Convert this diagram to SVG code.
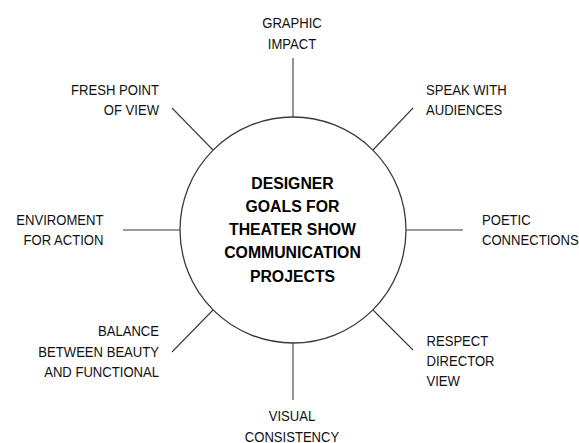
<svg xmlns="http://www.w3.org/2000/svg" width="579" height="443" viewBox="0 0 579 443">
  <style>
    .lbl { font-family: "Liberation Sans", Arial, sans-serif; font-size: 15.5px; fill: #111; }
    .hub { font-family: "Liberation Sans", Arial, sans-serif; font-size: 17px; font-weight: bold; fill: #000; text-anchor: middle; }
    .spoke { stroke: #3a3a3a; stroke-width: 1.1; fill: none; }
    .ring { stroke: #3a3a3a; stroke-width: 1.3; fill: #fff; }
    .end { text-anchor: end; }
    .mid { text-anchor: middle; }
  </style>
  <rect width="579" height="443" fill="#fff"/>

  <!-- spokes radiating from the hub -->
  <g id="connectors">
    <line class="spoke" x1="293" y1="58" x2="293" y2="117"/>
    <line class="spoke" x1="293" y1="343" x2="293" y2="400"/>
    <line class="spoke" x1="123" y1="230" x2="180" y2="230"/>
    <line class="spoke" x1="406" y1="230" x2="463" y2="230"/>
    <line class="spoke" x1="172" y1="108" x2="213" y2="150"/>
    <line class="spoke" x1="413" y1="108" x2="373" y2="150"/>
    <line class="spoke" x1="172" y1="352" x2="213" y2="310"/>
    <line class="spoke" x1="413" y1="350" x2="373" y2="310"/>
  </g>

  <!-- central hub -->
  <g id="hub">
    <circle class="ring" cx="293" cy="230" r="113"/>
    <g transform="translate(292.5 0) scale(0.93 1)">
      <text class="hub" x="0" y="189">DESIGNER</text>
      <text class="hub" x="0" y="212.5">GOALS FOR</text>
      <text class="hub" x="0" y="235.5">THEATER SHOW</text>
      <text class="hub" x="0" y="258.5">COMMUNICATION</text>
      <text class="hub" x="0" y="282">PROJECTS</text>
    </g>
  </g>

  <g id="graphic-impact" transform="translate(292 0) scale(0.845 1)">
    <text class="lbl mid" x="0" y="28.5">GRAPHIC</text>
    <text class="lbl mid" x="0" y="49">IMPACT</text>
  </g>

  <g id="speak-with-audiences" transform="translate(426 0) scale(0.845 1)">
    <text class="lbl" x="0" y="95">SPEAK WITH</text>
    <text class="lbl" x="0" y="115">AUDIENCES</text>
  </g>

  <g id="poetic-connections" transform="translate(482 0) scale(0.845 1)">
    <text class="lbl" x="0" y="225">POETIC</text>
    <text class="lbl" x="0" y="245">CONNECTIONS</text>
  </g>

  <g id="respect-director-view" transform="translate(426.5 0) scale(0.845 1)">
    <text class="lbl" x="0" y="346.5">RESPECT</text>
    <text class="lbl" x="0" y="366.5">DIRECTOR</text>
    <text class="lbl" x="0" y="386.5">VIEW</text>
  </g>

  <g id="visual-consistency" transform="translate(292 0) scale(0.845 1)">
    <text class="lbl mid" x="0" y="421.5">VISUAL</text>
    <text class="lbl mid" x="0" y="442">CONSISTENCY</text>
  </g>

  <g id="balance" transform="translate(159 0) scale(0.845 1)">
    <text class="lbl end" x="0" y="336.5">BALANCE</text>
    <text class="lbl end" x="0" y="357">BETWEEN BEAUTY</text>
    <text class="lbl end" x="0" y="377.5">AND FUNCTIONAL</text>
  </g>

  <g id="environment-for-action" transform="translate(103.5 0) scale(0.845 1)">
    <text class="lbl end" x="0" y="225">ENVIROMENT</text>
    <text class="lbl end" x="0" y="245">FOR ACTION</text>
  </g>

  <g id="fresh-point-of-view" transform="translate(159 0) scale(0.845 1)">
    <text class="lbl end" x="0" y="95">FRESH POINT</text>
    <text class="lbl end" x="0" y="115">OF VIEW</text>
  </g>
</svg>
